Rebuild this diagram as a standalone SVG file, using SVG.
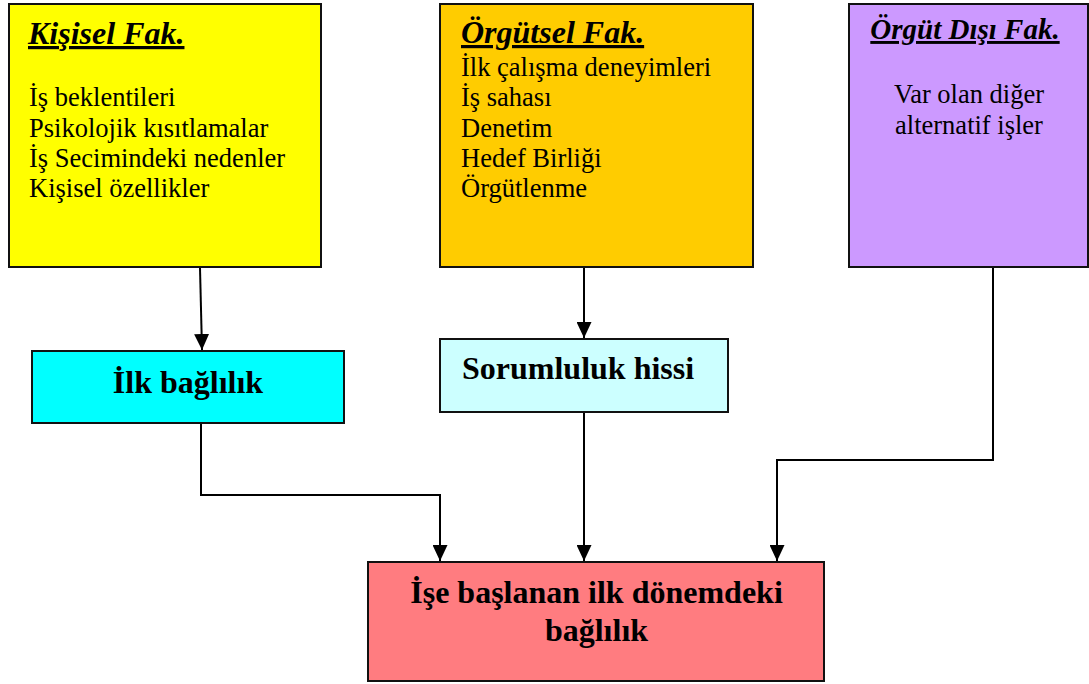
<svg xmlns="http://www.w3.org/2000/svg" width="1089" height="684" viewBox="0 0 1089 684">
  <defs>
    <marker id="arrow" markerWidth="16" markerHeight="15" refX="16" refY="7.5" orient="auto" markerUnits="userSpaceOnUse">
      <path d="M0,0 L16,7.5 L0,15 Z" fill="#000"/>
    </marker>
  </defs>
  <style>
    .box { stroke: #111; stroke-width: 2; }
    .title { font-family: "Liberation Serif", "Times New Roman", serif; font-weight: bold; font-style: italic; font-size: 32px; text-decoration: underline; fill: #000; }
    .body { font-family: "Liberation Serif", "Times New Roman", serif; font-size: 26.5px; fill: #000; }
    .bold { font-family: "Liberation Serif", "Times New Roman", serif; font-weight: bold; font-size: 32px; fill: #000; }
    .conn { fill: none; stroke: #000; stroke-width: 2; marker-end: url(#arrow); }
  </style>
  <rect width="1089" height="684" fill="#fff"/>

  <g id="kisisel">
    <rect class="box" x="9" y="4" width="312" height="263" fill="#FFFF00"/>
    <text class="title" x="28" y="44">Kişisel Fak.</text>
    <text class="body" x="29" y="106">İş beklentileri</text>
    <text class="body" x="29" y="136.5">Psikolojik kısıtlamalar</text>
    <text class="body" x="29" y="166.5">İş Secimindeki nedenler</text>
    <text class="body" x="29" y="197">Kişisel özellikler</text>
  </g>

  <g id="orgutsel">
    <rect class="box" x="440" y="4" width="313" height="263" fill="#FFCC00"/>
    <text class="title" x="461" y="43">Örgütsel Fak.</text>
    <text class="body" x="461" y="75.5">İlk çalışma deneyimleri</text>
    <text class="body" x="461" y="106">İş sahası</text>
    <text class="body" x="461" y="136.5">Denetim</text>
    <text class="body" x="461" y="166.5">Hedef Birliği</text>
    <text class="body" x="461" y="197">Örgütlenme</text>
  </g>

  <g id="orgut-disi">
    <rect class="box" x="849" y="4" width="239" height="263" fill="#CC99FF"/>
    <text class="title" x="965" y="39" text-anchor="middle" style="font-size:29px">Örgüt Dışı Fak.</text>
    <text class="body" x="969" y="103" text-anchor="middle">Var olan diğer</text>
    <text class="body" x="969" y="133.5" text-anchor="middle">alternatif işler</text>
  </g>

  <g id="ilk-baglilik">
    <rect class="box" x="32" y="351" width="312" height="72" fill="#00FFFF"/>
    <text class="bold" x="188" y="393" text-anchor="middle">İlk bağlılık</text>
  </g>

  <g id="sorumluluk">
    <rect class="box" x="440" y="339" width="288" height="73" fill="#CCFFFF"/>
    <text class="bold" x="462" y="379">Sorumluluk hissi</text>
  </g>

  <g id="sonuc">
    <rect class="box" x="368" y="562" width="456" height="119" fill="#FF7C80"/>
    <text class="bold" x="596.5" y="603" text-anchor="middle">İşe başlanan ilk dönemdeki</text>
    <text class="bold" x="596.5" y="641" text-anchor="middle">bağlılık</text>
  </g>

  <g id="connectors">
    <path class="conn" d="M200,268 L202,350"/>
    <path class="conn" d="M584,268 L584,338"/>
    <path class="conn" d="M201,424 L201,495 L440,495 L440,561"/>
    <path class="conn" d="M584,413 L584,561"/>
    <path class="conn" d="M993,268 L993,460 L777,460 L777,561"/>
  </g>
</svg>
